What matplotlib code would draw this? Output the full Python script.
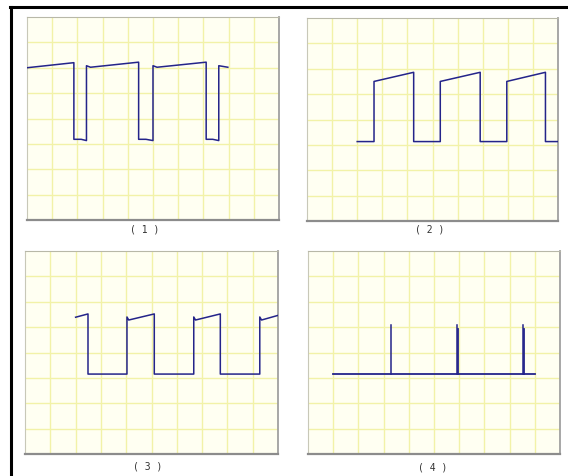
import numpy as np
import matplotlib
matplotlib.use("Agg")
import matplotlib.pyplot as plt
from matplotlib.lines import Line2D

# waveform data, in grid divisions (x: 0..10, y: 0..8 from bottom)
x1 = [0.0, 1.86, 1.86, 2.15, 2.36, 2.36, 2.52, 4.43, 4.43, 4.72, 5.0, 5.0, 5.16, 7.11, 7.11, 7.37, 7.61, 7.61, 7.97]
y1 = [6.0, 6.2, 3.18, 3.18, 3.13, 6.08, 6.02, 6.22, 3.18, 3.18, 3.13, 6.08, 6.02, 6.22, 3.18, 3.18, 3.13, 6.08, 6.02]

x2 = [2.0, 2.67, 2.67, 4.25, 4.25, 5.31, 5.31, 6.9, 6.9, 7.96, 7.96, 9.5, 9.5, 10.0]
y2 = [3.13, 3.13, 5.5, 5.86, 3.13, 3.13, 5.5, 5.86, 3.13, 3.13, 5.5, 5.86, 3.13, 3.13]

x3 = [2.0, 2.49, 2.49, 4.03, 4.03, 4.1, 5.11, 5.11, 6.67, 6.67, 6.74, 7.72, 7.72, 9.28, 9.28, 9.35, 9.99]
y3 = [5.39, 5.52, 3.15, 3.15, 5.4, 5.28, 5.52, 3.15, 3.15, 5.4, 5.28, 5.52, 3.15, 3.15, 5.4, 5.28, 5.46]

x4_base = [0.98, 9.0]
y4_base = [3.14, 3.14]
spike_x = [3.31, 5.91, 8.54]
spike_top = [5.09, 5.09, 5.09]

labels = ["( 1 )", "( 2 )", "( 3 )", "( 4 )"]

W, H = 568, 477
# panel boxes in pixels: left, top, right, bottom
boxes = [(27, 18, 279, 221), (307, 19, 558, 222), (25, 252, 278, 455), (308, 252, 560, 455)]
label_pos = [(145, 230), (430, 229), (148, 467), (433, 468)]

wave_col = "#24248a"
bg_col = "#fffff2"
grid_col = "#f2f2a8"

fig = plt.figure(figsize=(W / 100, H / 100), dpi=100)
fig.patch.set_facecolor("white")

axes = []
for (l, t, r, b) in boxes:
    ax = fig.add_axes([l / W, 1 - b / H, (r - l) / W, (b - t) / H])
    ax.set_xlim(0, 10)
    ax.set_ylim(0, 8)
    ax.set_facecolor(bg_col)
    for gx in range(1, 10):
        ax.axvline(gx, color=grid_col, lw=1.0, zorder=1)
    for gy in range(1, 8):
        ax.axhline(gy, color=grid_col, lw=1.0, zorder=1)
    ax.set_xticks([])
    ax.set_yticks([])
    ax.spines["top"].set_color("#b8b8a8")
    ax.spines["left"].set_color("#c8c8b8")
    ax.spines["bottom"].set_color("#8c8c8c")
    ax.spines["right"].set_color("#a0a0a0")
    ax.spines["bottom"].set_linewidth(1.6)
    ax.spines["right"].set_linewidth(1.3)
    ax.spines["top"].set_linewidth(0.8)
    ax.spines["left"].set_linewidth(0.8)
    axes.append(ax)

axes[0].plot(x1, y1, color=wave_col, lw=1.1, zorder=3)
axes[1].plot(x2, y2, color=wave_col, lw=1.1, zorder=3)
axes[2].plot(x3, y3, color=wave_col, lw=1.1, zorder=3)
axes[3].plot(x4_base, y4_base, color=wave_col, lw=1.3, zorder=3)
for i, (sx, st) in enumerate(zip(spike_x, spike_top)):
    axes[3].plot([sx, sx], [y4_base[0], st], color=wave_col, lw=1.1, zorder=3)
    if i > 0:
        # later spikes look a bit thicker below the tip
        axes[3].plot([sx + 0.03, sx + 0.03], [y4_base[0], st - 0.15], color=wave_col, lw=1.3, zorder=3)

for (px, py), txt in zip(label_pos, labels):
    fig.text(px / W, 1 - py / H, txt, ha="center", va="center",
             fontsize=7, family="DejaVu Sans Mono", color="#333333")

# outer frame: left and top black lines
fig.add_artist(Line2D([11 / W, 11 / W], [0, 1 - 8 / H], transform=fig.transFigure, color="black", lw=2.2))
fig.add_artist(Line2D([10 / W, 1], [1 - 8 / H, 1 - 8 / H], transform=fig.transFigure, color="black", lw=2.2))

fig.savefig("out.png", dpi=100)
